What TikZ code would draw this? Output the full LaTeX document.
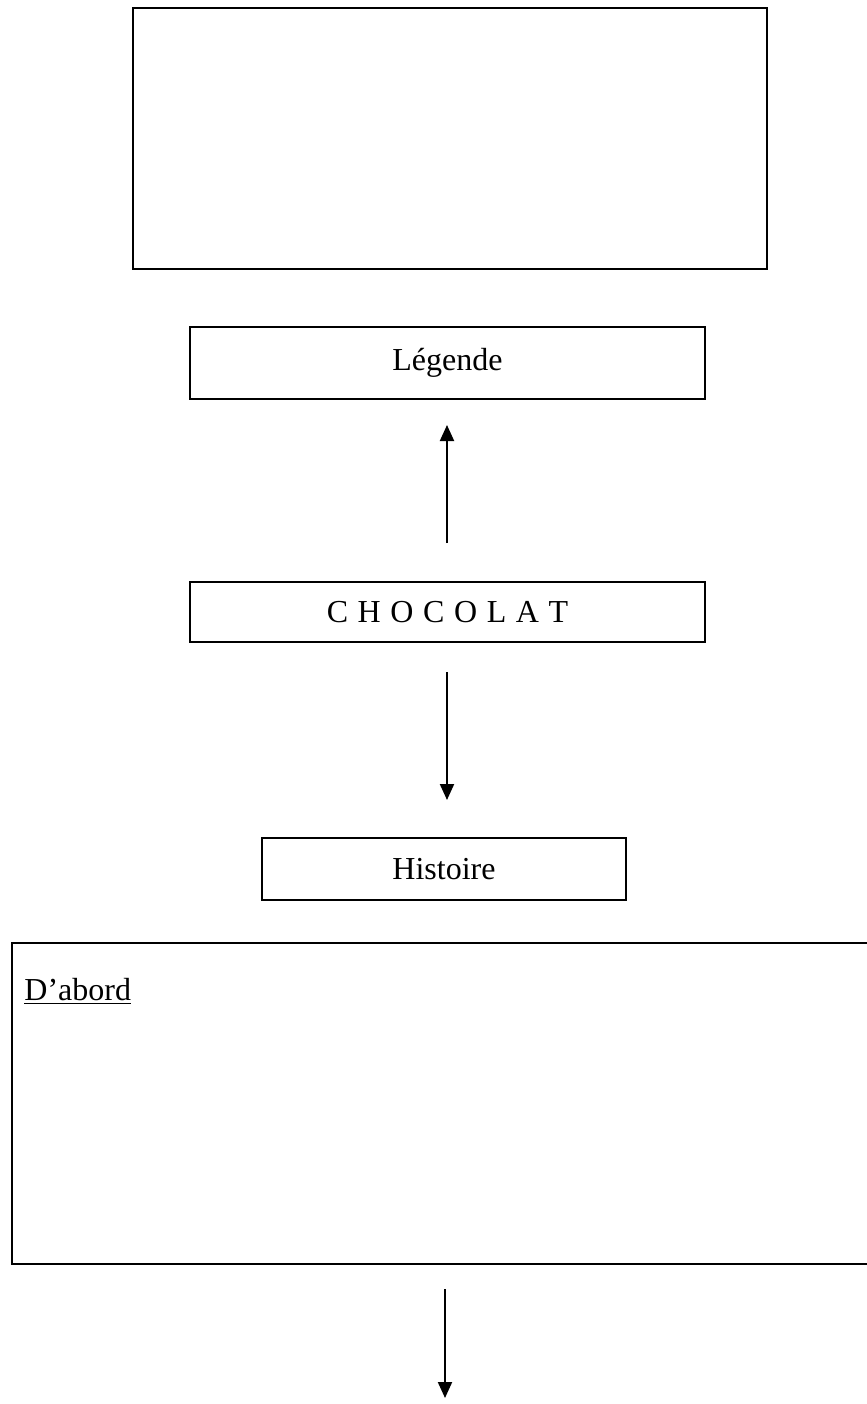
\documentclass[tikz,border=0pt]{standalone}
\usepackage{fontspec}
\setmainfont{Liberation Serif}
\usetikzlibrary{arrows.meta}
\newcommand{\spacedchoc}{C\hspace{0.3em}H\hspace{0.3em}O\hspace{0.3em}C\hspace{0.3em}O\hspace{0.3em}L\hspace{0.3em}A\hspace{0.3em}T}
\begin{document}
\begin{tikzpicture}[x=0.5pt,y=-0.5pt,
  box/.style={draw=black,line width=1pt,rectangle,inner sep=0pt,font=\fontsize{16}{19}\selectfont},
  conn/.style={line width=1pt,-{Triangle[width=7pt,length=8pt]}}]
\useasboundingbox (0,0) rectangle (867,1404);
\clip (0,0) rectangle (867,1404);
\fill[white] (0,0) rectangle (867,1404);
\node[box,minimum width=317pt,minimum height=130.5pt] (top) at (450,138.5) {};
\node[box,minimum width=257.5pt,minimum height=36pt] (leg) at (447.5,363) {Légende};
\node[box,minimum width=257.5pt,minimum height=30pt] (choc) at (447.5,612) {\spacedchoc};
\node[box,minimum width=182pt,minimum height=31pt] (hist) at (444,869) {Histoire};
\node[box,minimum width=434pt,minimum height=160.5pt] (big) at (446,1103.5) {};
\node[anchor=base west,inner sep=0pt,font=\fontsize{16}{19}\selectfont] (dab) at (24,1000) {\underline{D’abord}};
\coordinate (a1s) at (447,543);
\coordinate (a1e) at (447,425);
\coordinate (a2s) at (447,672);
\coordinate (a2e) at (447,800);
\coordinate (a3s) at (445,1289);
\coordinate (a3e) at (445,1398);
\draw[conn] (a1s) -- (a1e);
\draw[conn] (a2s) -- (a2e);
\draw[conn] (a3s) -- (a3e);
\end{tikzpicture}
\end{document}
